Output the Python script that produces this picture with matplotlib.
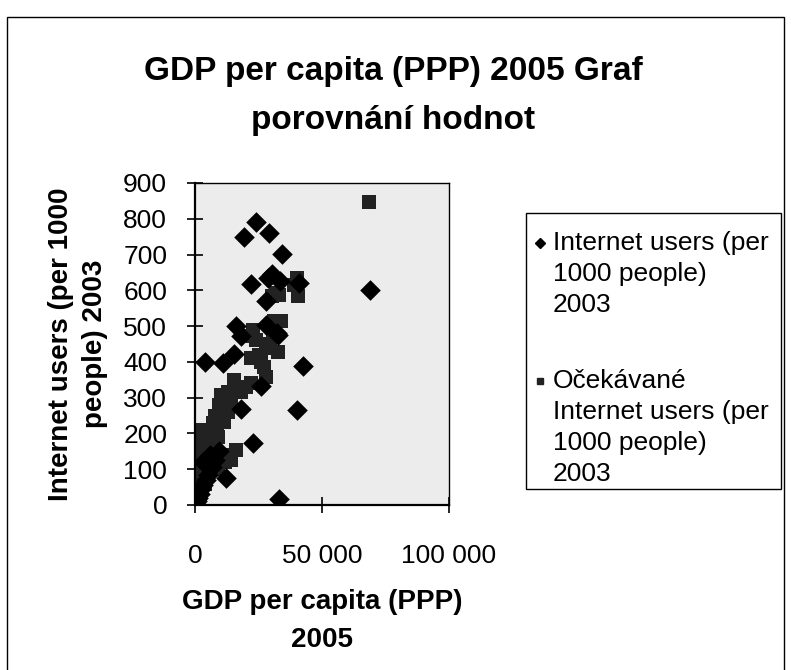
import matplotlib
matplotlib.use("Agg")
import matplotlib.pyplot as plt
from matplotlib.patches import Rectangle
from matplotlib.ticker import FuncFormatter

plt.rcParams['font.family'] = ['Liberation Sans', 'DejaVu Sans']

# --- data ---
# Internet users (per 1000 people) 2003 - actual values
gdp_actual = [24000, 19100, 29200, 34100, 30300, 33600, 28600, 22000, 41000, 27900,
              16100, 18100, 27900, 32100, 32800, 15400, 10900, 3800, 42400, 26000,
              18200, 40000, 22700, 12100, 33200, 69000,
              300, 800, 1300, 1800, 2500, 3300, 4200, 5200, 6500, 8000, 9500, 3000, 6000]
users_actual = [790, 749, 760, 701, 646, 625, 634, 617, 620, 569,
                499, 471, 503, 480, 475, 422, 398, 401, 389, 333,
                268, 266, 173, 75, 18, 600,
                3, 10, 20, 32, 45, 55, 70, 85, 105, 125, 150, 120, 140]

# Očekávané (expected) values
gdp_expected = [68500, 40300, 39100, 40400, 33200, 31900, 22700, 22000, 31200, 33900,
                30600, 27900, 32500, 22000, 27300, 27900, 15400, 22000, 10200, 12800,
                11500, 9500, 11500, 2200, 16100, 14100, 30500, 29500, 25000, 20000,
                18000, 14000, 13000, 8000, 7000, 6000, 5000, 4000, 3000, 2000,
                1500, 1000, 800, 600, 3500, 4500, 6500, 7500, 8500, 9000,
                5500, 2500, 1500, 1000, 500, 10500, 12000, 3000, 1000, 2000,
                500, 7000, 9000, 4000, 11000, 24000, 26000]
users_expected = [848, 635, 615, 583, 587, 592, 490, 471, 513, 513,
                  490, 438, 429, 410, 387, 359, 350, 340, 308, 317,
                  294, 280, 233, 210, 154, 126, 585, 450, 420, 330,
                  315, 280, 260, 250, 230, 200, 180, 170, 160, 150,
                  130, 120, 100, 90, 110, 130, 150, 175, 200, 190,
                  95, 75, 60, 40, 30, 140, 120, 200, 170, 185,
                  160, 120, 100, 60, 255, 460, 400]

title = "GDP per capita (PPP) 2005 Graf\nporovnání hodnot"
xlabel = "GDP per capita (PPP)\n2005"
ylabel = "Internet users (per 1000\npeople) 2003"
legend_labels = [["Internet users (per", "1000 people)", "2003"],
                 ["Očekávané", "Internet users (per", "1000 people)", "2003"]]

W, H = 791, 670
fig = plt.figure(figsize=(W / 100, H / 100), dpi=100)
fig.patch.set_facecolor("white")


def fx(px):
    return px / W


def fy(py):
    return 1 - py / H


# outer chart border
fig.patches.append(Rectangle((fx(7), -0.05), fx(784 - 7), 1.05 - 17 / H,
                             transform=fig.transFigure, fill=False,
                             edgecolor="black", linewidth=1.0))

ax = fig.add_axes([fx(195), fy(505), fx(449 - 195), (505 - 183) / H])
ax.set_facecolor("#ececec")

ax.scatter(gdp_expected, users_expected, marker="s", s=95, color="#222222",
           linewidths=0, zorder=2)
ax.scatter(gdp_actual, users_actual, marker="D", s=110, color="black",
           linewidths=0, zorder=3)

ax.set_xlim(0, 100000)
ax.set_ylim(0, 900)
ax.set_xticks([0, 50000, 100000])
ax.set_yticks(range(0, 901, 100))
ax.xaxis.set_major_formatter(FuncFormatter(lambda v, p: f"{int(v):,}".replace(",", " ")))
ax.tick_params(axis="both", direction="inout", length=12, width=1.2,
               labelsize=19, colors="black")
ax.tick_params(axis="x", pad=22)
ax.tick_params(axis="y", pad=14)
for s in ["left", "bottom"]:
    ax.spines[s].set_linewidth(1.6)
for s in ["top", "right"]:
    ax.spines[s].set_linewidth(1.0)

fig.text(fx(393), fy(96), title, ha="center", va="center",
         fontsize=24, fontweight="bold", linespacing=1.75)
fig.text(fx(322), fy(621), xlabel, ha="center", va="center",
         fontsize=20, fontweight="bold", linespacing=1.6)
fig.text(fx(78), fy(344), ylabel, ha="center", va="center",
         rotation=90, fontsize=20, fontweight="bold", linespacing=1.35)

# legend drawn by hand so the markers sit beside the first line of each entry
fig.patches.append(Rectangle((fx(526), fy(489)), fx(781 - 526), (489 - 213) / H,
                             transform=fig.transFigure, facecolor="white",
                             edgecolor="black", linewidth=1.0, zorder=1))
line_step = 31
entry_tops = [243, 381]
markers = [("D", "black", 5), ("s", "#222222", 5)]
for k, lines in enumerate(legend_labels):
    m, c, ms = markers[k]
    y0 = entry_tops[k]
    fig.lines.append(plt.Line2D([fx(540)], [fy(y0)], marker=m, color=c,
                                markersize=ms, linestyle="none",
                                transform=fig.transFigure, zorder=3))
    for i, t in enumerate(lines):
        fig.text(fx(553), fy(y0 + i * line_step), t, ha="left", va="center",
                 fontsize=19, zorder=3)

fig.savefig("out.png", dpi=100)
